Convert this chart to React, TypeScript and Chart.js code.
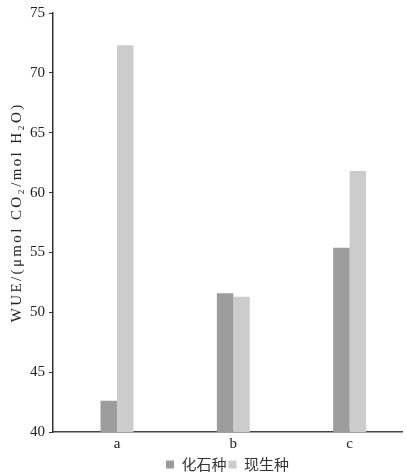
import React, { useEffect, useRef } from "react";
import { Chart, registerables } from "chart.js";

Chart.register(...registerables);

const categories = ["a", "b", "c"];
const fossilValues = [42.6, 51.6, 55.4];
const modernValues = [72.3, 51.3, 61.8];
const seriesNames = ["化石种", "现生种"];
const yTicks = [40, 45, 50, 55, 60, 65, 70, 75];
const yTitle = "WUE/(μmol CO₂/mol H₂O)";

export default function App() {
  const ref = useRef<HTMLCanvasElement | null>(null);
  useEffect(() => {
    if (!ref.current) return;
    const serif = "'Liberation Serif', 'Times New Roman', serif";
    const toPoints = (vals: number[]) => vals.map((v, i) => ({ x: i, y: v }));
    const yTitlePlugin = {
      id: "yTitle",
      afterDraw(chart: any) {
        const { ctx } = chart;
        ctx.save();
        ctx.font = `15px ${serif}`;
        ctx.fillStyle = "#222";
        const w = ctx.measureText(yTitle).width;
        const n = Array.from(yTitle).length;
        const target = 220;
        const ls = Math.max(0, (target - w) / n);
        (ctx as any).letterSpacing = `${ls}px`;
        ctx.translate(17.5, 213.5);
        ctx.rotate(-Math.PI / 2);
        ctx.textAlign = "center";
        ctx.textBaseline = "middle";
        ctx.fillText(yTitle, ls / 2, 0);
        ctx.restore();
      },
    };
    const chart = new Chart(ref.current, {
      type: "bar",
      data: {
        datasets: [
          {
            label: seriesNames[0],
            data: toPoints(fossilValues),
            backgroundColor: "#9c9c9c",
            borderWidth: 0,
            categoryPercentage: 0.283,
            barPercentage: 1,
          },
          {
            label: seriesNames[1],
            data: toPoints(modernValues),
            backgroundColor: "#cccccc",
            borderWidth: 0,
            categoryPercentage: 0.283,
            barPercentage: 1,
          },
        ],
      },
      plugins: [yTitlePlugin],
      options: {
        animation: false,
        responsive: false,
        layout: { padding: { top: 13, left: 0, right: 4, bottom: 0 } },
        plugins: {
          tooltip: { enabled: false },
          legend: {
            position: "bottom",
            fullSize: false,
            labels: {
              boxWidth: 8,
              boxHeight: 8,
              padding: 2,
              color: "#333",
              font: { family: "'Noto Sans CJK SC', sans-serif", size: 15, lineHeight: 1 },
            },
          },
        },
        scales: {
          x: {
            type: "linear",
            offset: false,
            min: -0.55,
            max: 2.45,
            afterBuildTicks: (s: any) => {
              s.ticks = categories.map((_, i) => ({ value: i }));
            },
            grid: { display: true, drawOnChartArea: false, drawTicks: false },
            border: { display: true, color: "#444", width: 1.5 },
            ticks: {
              color: "#222",
              padding: 3,
              font: { family: serif, size: 15 },
              callback: (v: any) => categories[Math.round(Number(v))] ?? "",
            },
            afterFit: (s: any) => {
              s.height = 23;
            },
          },
          y: {
            min: 40,
            max: 75,
            afterBuildTicks: (s: any) => {
              s.ticks = yTicks.map((v) => ({ value: v }));
            },
            grid: {
              display: true,
              drawOnChartArea: false,
              drawTicks: true,
              tickLength: 4,
              color: "#333",
            },
            border: { display: true, color: "#333", width: 1.5 },
            ticks: {
              color: "#222",
              padding: 4,
              font: { family: serif, size: 15 },
            },
            title: { display: false },
            afterFit: (s: any) => {
              s.width = 53;
            },
          },
        },
      },
    });
    return () => chart.destroy();
  }, []);
  return (
    <div
      style={{
        position: "absolute",
        left: 0,
        top: 0,
        width: 406,
        height: 474,
        overflow: "hidden",
        background: "#fff",
      }}
    >
      <canvas ref={ref} width={406} height={482} style={{ width: 406, height: 482 }} />
    </div>
  );
}
